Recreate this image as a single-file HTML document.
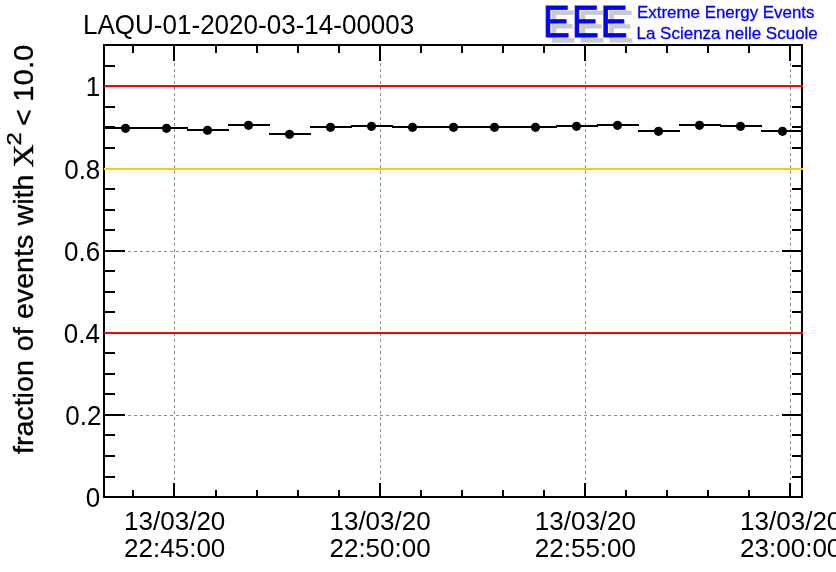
<!DOCTYPE html>
<html lang="en"><head><meta charset="utf-8"><title>LAQU-01-2020-03-14-00003</title>
<style>html,body{margin:0;padding:0;background:#fff;overflow:hidden}svg{display:block;will-change:transform}text{font-family:"Liberation Sans",sans-serif;fill:#000}.c{shape-rendering:crispEdges}.ser{font-family:"Liberation Serif",serif}</style></head><body>
<svg width="836" height="572" viewBox="0 0 836 572">
<rect width="836" height="572" fill="#fff"/>
<g class="c" stroke="#8c8c8c" stroke-width="1" stroke-dasharray="3 3" fill="none">
<line x1="174.5" y1="45" x2="174.5" y2="496"/>
<line x1="380.5" y1="45" x2="380.5" y2="496"/>
<line x1="585.5" y1="45" x2="585.5" y2="496"/>
<line x1="790.5" y1="45" x2="790.5" y2="496"/>
<line x1="104" y1="415.5" x2="801" y2="415.5" stroke-dashoffset="0"/>
<line x1="104" y1="333.5" x2="801" y2="333.5" stroke-dashoffset="0"/>
<line x1="104" y1="251.5" x2="801" y2="251.5" stroke-dashoffset="0"/>
<line x1="104" y1="169.5" x2="801" y2="169.5" stroke-dashoffset="0"/>
<line x1="104" y1="86.5" x2="801" y2="86.5" stroke-dashoffset="0"/>
</g>
<g class="c" stroke="#000" stroke-width="2" fill="none">
<rect x="104" y="45" width="698" height="452"/>
<path d="M133 497v-7M133 45v8"/>
<path d="M174 497v-14M174 45v16"/>
<path d="M216 497v-7M216 45v8"/>
<path d="M257 497v-7M257 45v8"/>
<path d="M298 497v-7M298 45v8"/>
<path d="M339 497v-7M339 45v8"/>
<path d="M380 497v-14M380 45v16"/>
<path d="M421 497v-7M421 45v8"/>
<path d="M462 497v-7M462 45v8"/>
<path d="M503 497v-7M503 45v8"/>
<path d="M544 497v-7M544 45v8"/>
<path d="M585 497v-14M585 45v16"/>
<path d="M626 497v-7M626 45v8"/>
<path d="M667 497v-7M667 45v8"/>
<path d="M708 497v-7M708 45v8"/>
<path d="M749 497v-7M749 45v8"/>
<path d="M790 497v-14M790 45v16"/>
<path d="M104 477h11M802 477h-10"/>
<path d="M104 456h11M802 456h-10"/>
<path d="M104 435h11M802 435h-10"/>
<path d="M104 415h21M802 415h-20"/>
<path d="M104 394h11M802 394h-10"/>
<path d="M104 374h11M802 374h-10"/>
<path d="M104 353h11M802 353h-10"/>
<path d="M104 333h21M802 333h-20"/>
<path d="M104 312h11M802 312h-10"/>
<path d="M104 292h11M802 292h-10"/>
<path d="M104 271h11M802 271h-10"/>
<path d="M104 251h21M802 251h-20"/>
<path d="M104 230h11M802 230h-10"/>
<path d="M104 210h11M802 210h-10"/>
<path d="M104 189h11M802 189h-10"/>
<path d="M104 169h21M802 169h-20"/>
<path d="M104 148h11M802 148h-10"/>
<path d="M104 127h11M802 127h-10"/>
<path d="M104 107h11M802 107h-10"/>
<path d="M104 86h21M802 86h-20"/>
<path d="M104 66h11M802 66h-10"/>
</g>
<g class="c" stroke-width="2" fill="none">
<line x1="104" y1="86" x2="803" y2="86" stroke="#ff0000"/>
<line x1="104" y1="169" x2="803" y2="169" stroke="#ffcc00"/>
<line x1="104" y1="333" x2="803" y2="333" stroke="#ff0000"/>
</g>
<g class="c" stroke="#000" stroke-width="2" fill="none">
<line x1="105" y1="128" x2="147" y2="128"/>
<line x1="146" y1="128" x2="188" y2="128"/>
<line x1="187" y1="130" x2="229" y2="130"/>
<line x1="228" y1="125" x2="270" y2="125"/>
<line x1="269" y1="134" x2="311" y2="134"/>
<line x1="310" y1="127" x2="352" y2="127"/>
<line x1="351" y1="126" x2="393" y2="126"/>
<line x1="392" y1="127" x2="434" y2="127"/>
<line x1="433" y1="127" x2="475" y2="127"/>
<line x1="474" y1="127" x2="516" y2="127"/>
<line x1="515" y1="127" x2="557" y2="127"/>
<line x1="556" y1="126" x2="598" y2="126"/>
<line x1="597" y1="125" x2="639" y2="125"/>
<line x1="638" y1="131" x2="680" y2="131"/>
<line x1="679" y1="125" x2="721" y2="125"/>
<line x1="720" y1="126" x2="762" y2="126"/>
<line x1="761" y1="131" x2="802" y2="131"/>
</g>
<g fill="#000">
<circle cx="125.5" cy="128.3" r="4.6"/>
<circle cx="166.5" cy="128.3" r="4.6"/>
<circle cx="207.5" cy="130.3" r="4.6"/>
<circle cx="248.5" cy="125.3" r="4.6"/>
<circle cx="289.5" cy="134.3" r="4.6"/>
<circle cx="330.5" cy="127.3" r="4.6"/>
<circle cx="371.5" cy="126.3" r="4.6"/>
<circle cx="412.5" cy="127.3" r="4.6"/>
<circle cx="453.5" cy="127.3" r="4.6"/>
<circle cx="494.5" cy="127.3" r="4.6"/>
<circle cx="535.5" cy="127.3" r="4.6"/>
<circle cx="576.5" cy="126.3" r="4.6"/>
<circle cx="617.5" cy="125.3" r="4.6"/>
<circle cx="658.5" cy="131.3" r="4.6"/>
<circle cx="699.5" cy="125.3" r="4.6"/>
<circle cx="740.5" cy="126.3" r="4.6"/>
<circle cx="782.5" cy="131.3" r="4.6"/>
</g>
<text x="83.0" y="33.9" font-size="27.3" textLength="331.3" lengthAdjust="spacingAndGlyphs">LAQU-01-2020-03-14-00003</text>
<g transform="translate(548.7 41.65) scale(0.9 1)"><text x="0 32.17 64.33" y="0" font-size="45.2" style="fill:#cacaca;stroke:#cacaca;stroke-width:0.9">EEE</text></g>
<g transform="translate(542.7 36.65) scale(0.9 1)"><text x="0 32.17 64.33" y="0" font-size="45.2" style="fill:#0000ff;stroke:#0000ff;stroke-width:0.9">EEE</text></g>
<g font-size="16.7" style="fill:#0000ff">
<text x="637.1" y="18" style="fill:#0000ff;stroke:#0000ff;stroke-width:.3" textLength="177.4" lengthAdjust="spacingAndGlyphs">Extreme Energy Events</text>
<text x="636.5" y="39" style="fill:#0000ff;stroke:#0000ff;stroke-width:.3" textLength="181.3" lengthAdjust="spacingAndGlyphs">La Scienza nelle Scuole</text>
</g>
<text x="85.81" y="96" font-size="27.2" textLength="14.46" lengthAdjust="spacingAndGlyphs">1</text>
<text x="64.19" y="179" font-size="27.2" textLength="36.14" lengthAdjust="spacingAndGlyphs">0.8</text>
<text x="64.10" y="261" font-size="27.2" textLength="36.14" lengthAdjust="spacingAndGlyphs">0.6</text>
<text x="63.72" y="343" font-size="27.2" textLength="36.14" lengthAdjust="spacingAndGlyphs">0.4</text>
<text x="65.36" y="425" font-size="27.2" textLength="36.14" lengthAdjust="spacingAndGlyphs">0.2</text>
<text x="85.86" y="507" font-size="27.2" textLength="14.46" lengthAdjust="spacingAndGlyphs">0</text>
<text x="174.7" y="530" font-size="26.6" text-anchor="middle" textLength="101.3" lengthAdjust="spacingAndGlyphs">13/03/20</text>
<text x="174.7" y="557" font-size="26.6" text-anchor="middle" textLength="101.3" lengthAdjust="spacingAndGlyphs">22:45:00</text>
<text x="380.1" y="530" font-size="26.6" text-anchor="middle" textLength="101.3" lengthAdjust="spacingAndGlyphs">13/03/20</text>
<text x="380.1" y="557" font-size="26.6" text-anchor="middle" textLength="101.3" lengthAdjust="spacingAndGlyphs">22:50:00</text>
<text x="585.4" y="530" font-size="26.6" text-anchor="middle" textLength="101.3" lengthAdjust="spacingAndGlyphs">13/03/20</text>
<text x="585.4" y="557" font-size="26.6" text-anchor="middle" textLength="101.3" lengthAdjust="spacingAndGlyphs">22:55:00</text>
<text x="790.7" y="530" font-size="26.6" text-anchor="middle" textLength="101.3" lengthAdjust="spacingAndGlyphs">13/03/20</text>
<text x="790.7" y="557" font-size="26.6" text-anchor="middle" textLength="101.3" lengthAdjust="spacingAndGlyphs">23:00:00</text>
<g transform="translate(33 0) rotate(-90)" font-size="28.4" style="stroke:#000;stroke-width:.35">
<text x="-454.0" y="0" textLength="93.79" lengthAdjust="spacingAndGlyphs">fraction</text>
<text x="-351.2" y="0" textLength="23.85" lengthAdjust="spacingAndGlyphs">of</text>
<text x="-319.0" y="0" textLength="84.26" lengthAdjust="spacingAndGlyphs">events</text>
<text x="-225.5" y="0" textLength="50.86" lengthAdjust="spacingAndGlyphs">with</text>
<text x="-125.9" y="0" textLength="16.70" lengthAdjust="spacingAndGlyphs">&lt;</text>
<text x="-167.6" y="0" font-size="29.6" textLength="23.2" lengthAdjust="spacingAndGlyphs" style="font-family:'Liberation Serif',serif">&#935;</text>
<text x="-145.4" y="-12" font-size="20" textLength="13.3" lengthAdjust="spacingAndGlyphs">2</text>
<text x="-101.7" y="0" textLength="57.0" lengthAdjust="spacingAndGlyphs">10.0</text>
</g>
</svg></body></html>
